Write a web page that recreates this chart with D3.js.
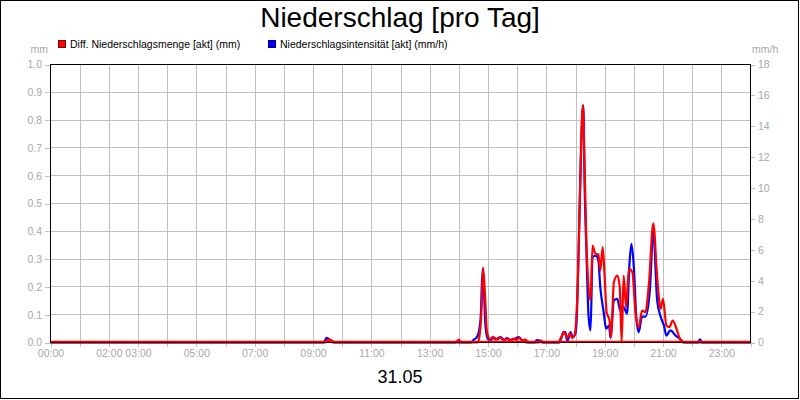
<!DOCTYPE html>
<html><head><meta charset="utf-8">
<script src="https://cdn.jsdelivr.net/npm/d3@7/dist/d3.min.js"></script>
<style>body{margin:0;background:#fff}svg{display:block;font-family:"Liberation Sans",Arial,sans-serif}</style>
</head><body><svg id="c" width="800" height="400"></svg>
<script>
const title = "Niederschlag [pro Tag]";
const dateLabel = "31.05";
const seriesNames = ["Diff. Niederschlagsmenge [akt] (mm)", "Niederschlagsintensität [akt] (mm/h)"];
const seriesColors = ["#ff0000", "#0000ff"];
const xTickLabels = ["00:00","02:00","03:00","05:00","07:00","09:00","11:00","13:00","15:00","17:00","19:00","21:00","23:00"];
const leftTicks = [0,0.1,0.2,0.3,0.4,0.5,0.6,0.7,0.8,0.9,1.0];
const rightTicks = [0,2,4,6,8,10,12,14,16,18];
// minutes since midnight / value in mm
const redMin = [0,565,572,578,584,833,840,845,879,883,886,890,894,898,904,911,916,922,927,933,939,946,952,959,964,970,977,984,1005,1009,1015,1044,1051,1057,1063,1068,1073,1078,1085,1090,1095,1099,1104,1111,1115,1121,1127,1131,1136,1140,1144,1150,1153,1159,1166,1171,1175,1179,1184,1190,1197,1203,1210,1217,1224,1231,1240,1248,1255,1260,1267,1273,1280,1287,1294,1302,1440];
const redVal = [0,0,0.01,0.008,0,0,0.01,0,0,0.031,0.091,0.269,0.163,0.037,0.013,0.02,0.01,0.018,0.016,0.007,0.013,0.007,0.014,0.01,0.018,0.007,0.01,0,0,0.007,0,0,0.02,0.037,0.016,0.033,0.016,0.025,0.235,0.607,0.853,0.607,0.283,0.151,0.349,0.319,0.317,0.259,0.343,0.235,0.109,0.079,0.019,0.217,0.241,0.2,0,0.241,0.127,0.265,0.253,0.115,0.055,0.115,0.109,0.211,0.429,0.235,0.121,0.157,0.061,0.055,0.079,0.053,0.016,0,0];
// minutes since midnight / value in mm/h
const blueMin = [0,562,568,574,580,865,871,876,881,885,889,892,895,900,905,912,919,926,933,939,946,954,963,970,979,996,1000,1007,1011,1046,1051,1055,1059,1063,1070,1074,1079,1082,1087,1092,1096,1099,1103,1107,1111,1115,1122,1127,1131,1138,1143,1149,1152,1159,1166,1172,1179,1186,1191,1195,1200,1205,1210,1217,1224,1233,1240,1248,1255,1262,1267,1275,1286,1295,1304,1332,1336,1340,1440];
const blueVal = [0,0,0.3,0.2,0,0,0.19,0.3,0.67,1.64,4.77,3.15,0.99,0.22,0.17,0.3,0.2,0.35,0.17,0.28,0.17,0.22,0.35,0.13,0,0,0.15,0.13,0,0,0.3,0.67,0.67,0.09,0.67,0.35,0.5,1.21,6.6,13.1,15.35,9.84,5.31,1.64,0.78,5.53,5.63,5.31,3.58,1.96,0.89,1.1,0.3,2.72,2.83,2.07,2.29,1.86,5.1,6.39,4.88,1.68,0.67,1.68,1.68,3.37,7.25,2.72,1.68,1.1,0.45,0.78,0.45,0.24,0,0,0.2,0,0];

const svg = d3.select("#c");
const L = 50, R = 750, T = 64, B = 342;
const gridCol = "#c0c0c0", labCol = "#a8a8a8";
const x = d3.scaleLinear().domain([0,1440]).range([L+0.5, R+0.5]);
const yL = d3.scaleLinear().domain([0,1]).range([B+0.5, T+0.5]);
const yR = d3.scaleLinear().domain([0,18]).range([B+0.5, T+0.5]);

svg.append("rect").attr("x",0.5).attr("y",0.5).attr("width",798).attr("height",398)
  .attr("fill","#fff").attr("stroke","#000");

// grid
const hours = d3.range(0, 1441, 60);
svg.append("g").selectAll("line").data(hours.slice(1,-1)).join("line")
  .attr("x1", d=>Math.round(x(d))+0.5).attr("x2", d=>Math.round(x(d))+0.5)
  .attr("y1", T).attr("y2", B).attr("stroke", gridCol);
svg.append("g").selectAll("line").data(leftTicks.slice(1,-1)).join("line")
  .attr("x1", L).attr("x2", R).attr("y1", d=>Math.round(yL(d)-0.5)+0.5).attr("y2", d=>Math.round(yL(d)-0.5)+0.5)
  .attr("stroke", gridCol);

// axes
const labelMin = xTickLabels.map(s => { const p = s.split(":"); return +p[0]*60 + +p[1]; });
const xAxis = d3.axisBottom(x).tickValues(hours).tickSize(5).tickPadding(3)
  .tickFormat(d => { const i = labelMin.indexOf(d); return i >= 0 ? xTickLabels[i] : ""; });
const gx = svg.append("g").attr("transform", `translate(0,${B})`).call(xAxis);
const lAxis = d3.axisLeft(yL).tickValues(leftTicks).tickSize(5).tickPadding(3).tickFormat(d3.format(".1f"));
const gl = svg.append("g").attr("transform", `translate(${L},0)`).call(lAxis);
const rAxis = d3.axisRight(yR).tickValues(rightTicks).tickSize(5).tickPadding(3).tickFormat(d3.format("d"));
const gr = svg.append("g").attr("transform", `translate(${R},0)`).call(rAxis);
[gx,gl,gr].forEach(g => {
  g.select(".domain").remove();
  g.selectAll(".tick line").attr("stroke", gridCol).attr("shape-rendering","crispEdges");
  g.selectAll(".tick text").attr("fill", labCol).style("font-size","10.5px")
   .style("font-family","\"Liberation Sans\",Arial,sans-serif");
});

// unit labels
svg.append("text").attr("x",48).attr("y",53).attr("text-anchor","end").attr("fill",labCol).style("font-size","10.5px").text("mm");
svg.append("text").attr("x",752).attr("y",53).attr("fill",labCol).style("font-size","10.5px").text("mm/h");

// lines
const lineB = d3.line().x(d=>x(d[0])).y(d=>yR(d[1])).curve(d3.curveMonotoneX);
const lineR = d3.line().x(d=>x(d[0])).y(d=>yL(d[1])).curve(d3.curveMonotoneX);
svg.append("path").datum(d3.zip(blueMin, blueVal)).attr("d", lineB)
  .attr("fill","none").attr("stroke",seriesColors[1]).attr("stroke-width",2.2).attr("stroke-linejoin","round");
svg.append("path").datum(d3.zip(redMin, redVal)).attr("d", lineR)
  .attr("fill","none").attr("stroke",seriesColors[0]).attr("stroke-width",2.2).attr("stroke-linejoin","round");

// frame
svg.append("rect").attr("x",L+0.5).attr("y",T+0.5).attr("width",R-L).attr("height",B-T)
  .attr("fill","none").attr("stroke","#000");
svg.append("line").attr("x1",L+1).attr("x2",R).attr("y1",B-0.5).attr("y2",B-0.5).attr("stroke",seriesColors[0]).attr("stroke-width",1.5);

// title
svg.append("text").attr("x",400).attr("y",27).attr("text-anchor","middle").style("font-size","28px").attr("fill","#000").text(title);
svg.append("text").attr("x",400).attr("y",383).attr("text-anchor","middle").style("font-size","18px").attr("fill","#000").text(dateLabel);

// legend
const legX = [58, 268];
seriesNames.forEach((n,i) => {
  svg.append("rect").attr("x",legX[i]+0.5).attr("y",40.5).attr("width",7).attr("height",7)
    .attr("fill",seriesColors[i]).attr("stroke", i===0 ? "#800000" : "#000080");
  svg.append("text").attr("x",legX[i]+12).attr("y",48).style("font-size","10.5px").attr("fill","#000").text(n);
});
</script></body></html>
